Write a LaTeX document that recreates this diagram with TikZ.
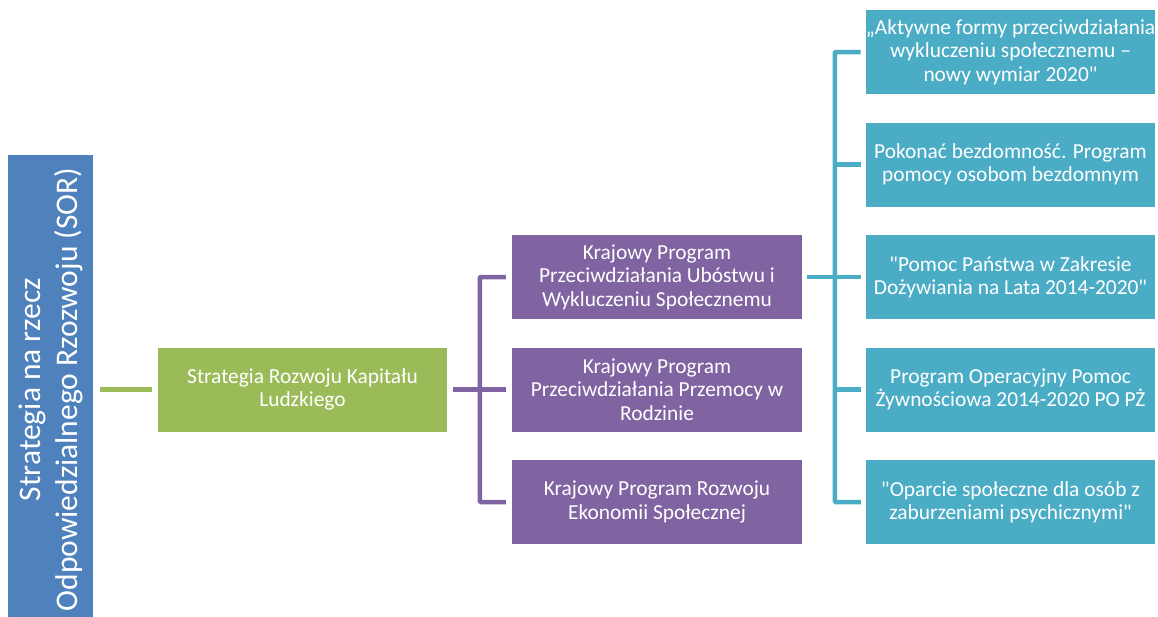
\documentclass[tikz,border=0pt]{standalone}
\usepackage{fontspec}
\setmainfont{Carlito}[Ligatures=TeXOff]
\usetikzlibrary{positioning}
\definecolor{SorBlue}{RGB}{79,129,189}
\definecolor{KapitalGreen}{RGB}{155,187,89}
\definecolor{ProgramPurple}{RGB}{128,100,162}
\definecolor{ZadanieTeal}{RGB}{75,172,198}

\begin{document}
\begin{tikzpicture}[x=1pt, y=-1pt]
  \tikzstyle{box} = [rectangle, text=white, inner sep=0pt, minimum width=289pt,
    minimum height=84pt, align=center, font=\fontsize{21.4}{23.4}\selectfont]
  \tikzstyle{link} = [line width=4.5pt, rounded corners=1pt]

  \useasboundingbox (0,0) rectangle (1158,616);
  \clip (0,0) rectangle (1158,616);

  % Strategia nadrzedna
  \node[box, fill=SorBlue, rotate=90, minimum width=470pt, minimum height=85pt,
    font=\fontsize{31.5}{37}\selectfont] (sor) at (50.5,389.5)
    {Strategia na rzecz\\Odpowiedzialnego Rzozwoju (SOR)};

  \node[box, fill=KapitalGreen] (srkl) at (302.5,389.5) {Strategia Rozwoju Kapitału\\Ludzkiego};

  % Programy krajowe
  \foreach \tekst [count=\i] in {{Krajowy Program\\Przeciwdziałania Ubóstwu i\\Wykluczeniu Społecznemu},
      {Krajowy Program\\Przeciwdziałania Przemocy w\\Rodzinie},
      {Krajowy Program Rozwoju\\Ekonomii Społecznej}}
    \node[box, fill=ProgramPurple, minimum width=290pt] (k\i) at (657,164.5+\i*112.5) {\tekst};

  % Programy szczegolowe
  \foreach \tekst [count=\i] in {{„Aktywne formy przeciwdziałania\\wykluczeniu społecznemu –\\nowy wymiar 2020"},
      {Pokonać bezdomność. Program\\pomocy osobom bezdomnym},
      {"Pomoc Państwa w Zakresie\\Dożywiania na Lata 2014-2020"},
      {Program Operacyjny Pomoc\\Żywnościowa 2014-2020 PO PŻ},
      {"Oparcie społeczne dla osób z\\zaburzeniami psychicznymi"}}
    \node[box, fill=ZadanieTeal] (t\i) at (1010.5,-60.5+\i*112.5) {\tekst};

  % Polaczenia
  \draw[link, KapitalGreen] ([xshift=7pt]sor.south) -- ([xshift=-6pt]srkl.west);
  \draw[link, ProgramPurple] ([xshift=-6pt]k1.west) -| ([xshift=-32pt]k3.west) -- ([xshift=-6pt]k3.west);
  \draw[link, ProgramPurple] ([xshift=6pt]srkl.east) -- ([xshift=-6pt]k2.west);
  \draw[link, ZadanieTeal] ([xshift=-5pt]t1.west) -| ([xshift=-31pt]t5.west) -- ([xshift=-5pt]t5.west);
  \foreach \i in {2,3,4}
    \draw[link, ZadanieTeal] ([xshift=-31pt]t\i.west) -- ([xshift=-5pt]t\i.west);
  \draw[link, ZadanieTeal] ([xshift=5pt]k1.east) -- ([xshift=-31pt]t3.west);
\end{tikzpicture}
\end{document}
